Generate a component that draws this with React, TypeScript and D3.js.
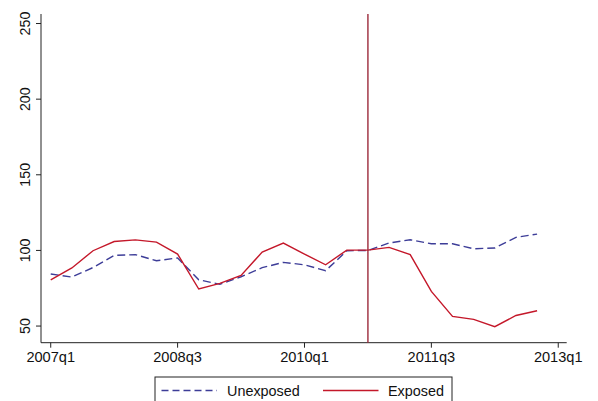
import React from "react";
import * as d3 from "d3";

// Quarterly index values, 2007q1 .. 2012q4 (index 0..23)
const quarterIdx: number[] = d3.range(24);
const unexposed: number[] = [
  84.4, 82.4, 88.7, 96.7, 97.2, 93.2, 95.0, 80.6, 77.6, 82.6, 88.6, 92.1,
  90.5, 86.6, 99.8, 100.0, 104.9, 107.1, 104.4, 104.4, 101.1, 101.6, 108.6, 110.8,
];
const exposed: number[] = [
  80.6, 88.4, 99.8, 105.9, 107.0, 105.5, 97.6, 74.5, 78.2, 83.5, 98.9, 104.9,
  97.6, 90.5, 100.2, 100.2, 102.0, 97.2, 72.9, 56.4, 54.4, 49.6, 57.0, 60.1,
];
const xTickIdx: number[] = [0, 6, 12, 18, 24];
const xTickLabels: string[] = ["2007q1", "2008q3", "2010q1", "2011q3", "2013q1"];
const yTicks: number[] = [50, 100, 150, 200, 250];
const eventIdx = 15; // 2010q4
const seriesNames: string[] = ["Unexposed", "Exposed"];

const W = 598;
const H = 401;
const FONT = "'Liberation Sans', Arial, Helvetica, sans-serif";
const BLUE = "#3d3d98";
const RED = "#c4182a";
const XLINE = "#9c2a3a";

export default function App() {
  const x = d3.scaleLinear().domain([-0.46, 24.4]).range([41, 566.7]);
  const y = d3.scaleLinear().domain([39, 256.3]).range([342.7, 14]);

  const line = d3
    .line<number>()
    .x((_, i) => x(quarterIdx[i]))
    .y((d) => y(d));

  const [x0, x1] = x.range();
  const [yb, yt] = y.range();

  return (
    <svg
      width={W}
      height={H}
      style={{ position: "absolute", left: 0, top: 0, background: "#fff" }}
      fontFamily={FONT}
    >
      <rect width={W} height={H} fill="#fff" />

      {/* y axis */}
      <line x1={x0} x2={x0} y1={yb} y2={yt} stroke="#222" strokeWidth={1} />
      {yTicks.map((t) => (
        <g key={t}>
          <line x1={x0 - 5} x2={x0} y1={y(t)} y2={y(t)} stroke="#222" strokeWidth={1} />
          <text
            transform={`translate(30,${y(t)}) rotate(-90)`}
            textAnchor="middle"
            fontSize={14.3}
            fill="#111"
          >
            {t}
          </text>
        </g>
      ))}

      {/* x axis */}
      <line x1={x0} x2={x1} y1={yb} y2={yb} stroke="#222" strokeWidth={1} />
      {xTickIdx.map((t, i) => (
        <g key={t}>
          <line x1={x(t)} x2={x(t)} y1={yb} y2={yb + 5} stroke="#222" strokeWidth={1} />
          <text x={x(t)} y={361.8} textAnchor="middle" fontSize={14.6} fill="#111">
            {xTickLabels[i]}
          </text>
        </g>
      ))}

      {/* series */}
      <path
        d={line(unexposed) ?? ""}
        fill="none"
        stroke={BLUE}
        strokeWidth={1.4}
        strokeDasharray="8,4"
      />
      <path d={line(exposed) ?? ""} fill="none" stroke={RED} strokeWidth={1.4} />

      {/* event marker */}
      <line
        x1={x(eventIdx)}
        x2={x(eventIdx)}
        y1={yt}
        y2={yb}
        stroke={XLINE}
        strokeWidth={1.4}
      />

      {/* legend */}
      <rect x={155} y={377} width={297} height={40} fill="#fff" stroke="#222" strokeWidth={1} />
      <line x1={161.5} x2={217} y1={390.5} y2={390.5} stroke={BLUE} strokeWidth={1.4} strokeDasharray="7,4" />
      <text x={227} y={395.8} fontSize={14.4} fill="#111">
        {seriesNames[0]}
      </text>
      <line x1={323} x2={378.5} y1={390.5} y2={390.5} stroke={RED} strokeWidth={1.4} />
      <text x={388} y={395.8} fontSize={14.4} fill="#111">
        {seriesNames[1]}
      </text>
    </svg>
  );
}
